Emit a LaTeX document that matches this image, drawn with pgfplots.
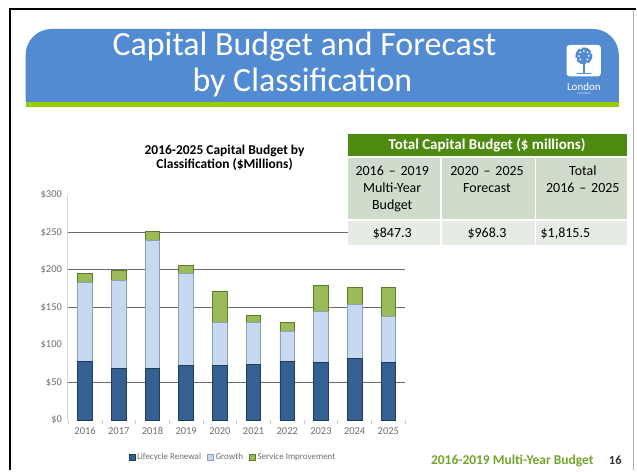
\documentclass[border=0pt]{standalone}
\usepackage{fontspec}
\setmainfont{Carlito}
\usepackage{pgfplots}
\pgfplotsset{compat=1.18}
\usepackage{pgfplotstable}

\definecolor{hdrblue}{RGB}{82,139,209}
\definecolor{hdrgreen}{RGB}{153,204,0}
\definecolor{tblgreen}{RGB}{79,138,16}
\definecolor{tblhead}{RGB}{207,220,204}
\definecolor{tblval}{RGB}{230,236,227}
\definecolor{lcblue}{RGB}{55,96,146}
\definecolor{lcdark}{RGB}{31,59,94}
\definecolor{grblue}{RGB}{198,217,241}
\definecolor{grborder}{RGB}{142,160,184}
\definecolor{svgreen}{RGB}{155,187,89}
\definecolor{svdark}{RGB}{94,122,42}
\definecolor{footgreen}{RGB}{113,165,42}
\definecolor{tickgray}{RGB}{110,110,110}

% capital budget by classification, $ millions
\pgfplotstableread{
i  L     G      S
0  78.5  104.2  12.3
1  68.7  117.1  13.7
2  68.7  170.7  11.1
3  72.7  122.8  10.2
4  72.7  56.8   42.0
5  74.0  56.3   8.9
6  78.5  39.9   11.9
7  76.3  68.7   34.0
8  82.0  71.9   23.0
9  77.1  61.2   37.7
}\capdata

\newcommand{\rng}[2]{#1\hspace{0.35em}--\hspace{0.35em}#2}

\begin{document}
\begin{tikzpicture}[x=1pt,y=1pt]
\path[fill=white] (0,0) rectangle (637,-471);

% slide frame
\draw[black, line width=2.5pt] (10,-471) -- (10,-9) -- (637,-9);
\draw[gray!60, line width=0.8pt] (634.5,-10) -- (634.5,-471);

% header band
\fill[hdrblue] (25.7,-102) -- (25.7,-55) arc[start angle=180,end angle=90,radius=26]
  -- (594,-29) arc[start angle=90,end angle=0,radius=26] -- (620,-102) -- cycle;
\fill[hdrgreen] (25.7,-102) rectangle (620,-107.5);
\node[white, anchor=base, font=\fontsize{34}{36}\selectfont] at (305,-56) {Capital Budget and Forecast};
\node[white, anchor=base, font=\fontsize{34}{36}\selectfont] at (303,-92) {by Classification};

% logo
\fill[white, rounded corners=3pt] (567.7,-45) rectangle (602,-76.5);
\fill[hdrblue] (585,-56) circle (8.5);
\foreach \a in {0,45,...,315} \fill[white] (585,-56) ++(\a:5) circle (1);
\foreach \a in {22,112,202,292} \fill[white] (585,-56) ++(\a:8) circle (1.1);
\draw[hdrblue, line width=1.6pt] (585,-73) -- (585,-60);
\draw[hdrblue, line width=1pt] (578,-73.5) -- (592,-73.5);
\node[white, font=\fontsize{11}{11}\selectfont] at (585,-87) {London};
\node[white, font=\fontsize{3}{3}\selectfont] at (585,-93.5) {C\,A\,N\,A\,D\,A};

% chart title
\node[align=center, font=\bfseries\fontsize{13.5}{13.5}\selectfont] at (225,-158) {2016-2025 Capital Budget by\\Classification (\$Millions)};

\begin{axis}[
  at={(67.7pt,-421pt)}, anchor=south west,
  scale only axis, width=338.3pt, height=226pt,
  ybar stacked, bar width=14.6pt,
  xmin=-0.52, xmax=9.5, ymin=0, ymax=300,
  axis x line=bottom, axis y line=left, axis line style={-},
  x axis line style={draw=none},
  y axis line style={draw=gray!30, line width=1.5pt},
  xtick={0,...,9},
  xticklabels={2016,2017,2018,2019,2020,2021,2022,2023,2024,2025},
  ytick={0,50,...,300},
  yticklabel={\$\pgfmathprintnumber{\tick}},
  typeset ticklabels with strut,
  tick style={draw=none},
  extra x ticks={-0.5,0.5,...,9.5},
  extra x tick labels={},
  extra x tick style={tick style={draw=gray!40, line width=0.8pt}, major tick length=4pt, tick align=outside},
  extra y ticks={50,150,200,250},
  extra y tick labels={},
  extra y tick style={grid=major},
  major grid style={draw=gray!85!black, line width=0.8pt},
  ticklabel style={font=\fontsize{10.5}{11}\selectfont, text=tickgray},
  xticklabel style={yshift=-1pt},
  /pgf/number format/assume math mode=true,
  legend style={at={(0.49,-0.165)}, anchor=center, draw=none, fill=none,
    legend columns=3, font=\fontsize{9}{10}\selectfont, text=tickgray,
    /tikz/every even column/.append style={column sep=4pt}},
  legend image code/.code={\draw[#1, line width=0.5pt] (0pt,-3pt) rectangle (6pt,3pt);},
]
\addplot[fill=lcblue, draw=lcdark, line width=0.8pt] table[x=i,y=L]{\capdata};
\addlegendentry{Lifecycle Renewal}
\addplot[fill=grblue, draw=grborder, line width=0.8pt] table[x=i,y=G]{\capdata};
\addlegendentry{Growth}
\addplot[fill=svgreen, draw=svdark, line width=0.8pt] table[x=i,y=S]{\capdata};
\addlegendentry{Service Improvement}
\end{axis}

% summary table
\fill[tblgreen] (348.3,-134) rectangle (628,-156.7);
\node[white, font=\bfseries\fontsize{15}{17}\selectfont] at (488,-145.5) {Total Capital Budget (\$ millions)};
\fill[tblhead] (348.3,-158) rectangle (440.9,-219.9);
\fill[tblhead] (442.5,-158) rectangle (535.9,-219.9);
\fill[tblhead] (537.5,-158) rectangle (628,-219.9);
\fill[tblval] (348.3,-221.5) rectangle (440.9,-245);
\fill[tblval] (442.5,-221.5) rectangle (535.9,-245);
\fill[tblval] (537.5,-221.5) rectangle (628,-245);
\node[align=center, font=\fontsize{14}{17}\selectfont] at (393,-189) {\rng{2016}{2019}\\Multi-Year\\Budget};
\node[align=center, anchor=north, font=\fontsize{14}{17}\selectfont] at (488,-163) {\rng{2020}{2025}\\Forecast};
\node[align=center, anchor=north, font=\fontsize{14}{17}\selectfont] at (584,-163) {Total\\\rng{2016}{2025}};
\node[font=\fontsize{14}{17}\selectfont] at (393,-234) {\$847.3};
\node[font=\fontsize{14}{17}\selectfont] at (488,-234) {\$968.3};
\node[anchor=west, inner sep=0pt, font=\fontsize{14}{17}\selectfont] at (541.5,-234) {\$1,815.5};

% footer
\node[anchor=base west, inner sep=0pt, text=footgreen, font=\bfseries\fontsize{13.5}{15}\selectfont] at (431.7,-465) {2016-2019 Multi-Year Budget};
\node[anchor=base east, inner sep=0pt, text=black!80, font=\bfseries\fontsize{12.5}{14}\selectfont] at (623,-465) {16};
\end{tikzpicture}
\end{document}
